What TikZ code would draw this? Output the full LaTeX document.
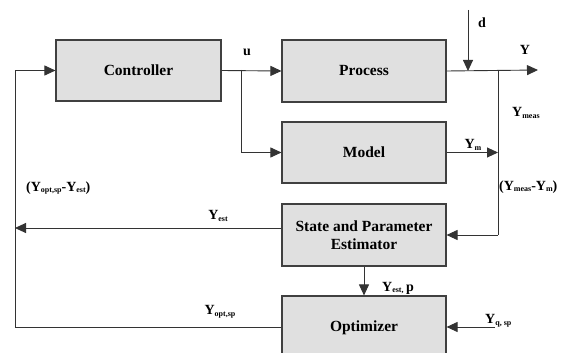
\documentclass[tikz,border=0pt]{standalone}
\usepackage{fontspec}
\setmainfont{Liberation Serif}[BoldFont={Liberation Serif Bold}]
\usetikzlibrary{arrows.meta,calc}
\newcommand{\lblY}[1]{{\fontsize{14}{15}\selectfont\bfseries Y}\raisebox{-1.5pt}{\fontsize{8}{9}\selectfont\bfseries #1}}
\tikzset{
  blk/.style={draw=black!75, line width=1.1pt, fill=black!12, minimum width=164pt, minimum height=62pt, inner sep=0pt, align=center, font=\fontsize{15.5}{17.5}\selectfont\bfseries},
  conn/.style={draw=black!80, line width=0.9pt},
  arr/.style={conn, -{Triangle[length=11pt,width=10pt]}},
  lbl/.style={inner sep=0pt, font=\bfseries},
}
\begin{document}
\begin{tikzpicture}[x=1pt,y=-1pt]
\useasboundingbox (0,0) rectangle (566,353);
\node[blk, minimum width=165pt, minimum height=61pt] (ctrl) at (138.5,70.5) {Controller};
\node[blk] (proc) at (364,71) {Process};
\node[blk, minimum height=61pt] (model) at (364,152.5) {Model};
\node[blk] (est) at (364,235) {State and Parameter\\Estimator};
\node[blk, minimum height=64pt] (opt) at (364,328) {Optimizer};

\coordinate (uj) at (241,70);
\coordinate (yout) at (538,70);
\coordinate (dtop) at (468,10);
\coordinate (ymj) at (498,70);
\coordinate (ymb) at (498,235);
\coordinate (yestL) at (15,228);
\coordinate (lbot) at (15,327);
\coordinate (yqR) at (495,327);

\draw[arr] (ctrl.east) -- (proc.west);
\draw[arr] (uj) |- (model.west);
\draw[arr] (proc.east) -- (yout);
\draw[arr] (dtop) -- (dtop |- proc.east);
\draw[conn] (ymj) -- (ymb);
\draw[arr] (ymb) -- (est.east |- ymb);
\draw[arr] (model.east) -- (ymj |- model.east);
\draw[arr] (est.west |- yestL) -- (yestL);
\draw[arr] (est.south) -- (opt.north);
\draw[arr] (yqR) -- (opt.east |- yqR);
\draw[arr] (opt.west |- lbot) -- (lbot) -- (lbot |- ctrl.west) -- (ctrl.west);

\node[lbl, font=\fontsize{14}{16}\selectfont\bfseries] (u) at (247,52) {u};
\node[lbl, font=\fontsize{14}{16}\selectfont\bfseries] (d) at (482,23) {d};
\node[lbl, font=\fontsize{14}{16}\selectfont\bfseries] (Y) at (525,50) {Y};
\node[lbl, anchor=west] (ymeas) at (512,113) {\lblY{meas}};
\node[lbl] (ym) at (473,145) {\lblY{m}};
\node[lbl, anchor=west] (diff1) at (499,187) {{\fontsize{14}{15}\selectfont (}\lblY{meas}{\fontsize{14}{15}\selectfont -}\lblY{m}{\fontsize{14}{15}\selectfont )}};
\node[lbl, anchor=west] (diff2) at (26,188) {{\fontsize{14}{15}\selectfont (}\lblY{opt,sp}{\fontsize{14}{15}\selectfont -}\lblY{est}{\fontsize{14}{15}\selectfont )}};
\node[lbl] (yest) at (218,216) {\lblY{est}};
\node[lbl] (yoptsp) at (220,312) {\lblY{opt,sp}};
\node[lbl, anchor=west] (yestp) at (382,288) {\lblY{est,} {\fontsize{14}{15}\selectfont p}};
\node[lbl, anchor=west] (yqsp) at (485,321) {\lblY{q, sp}};
\end{tikzpicture}
\end{document}
